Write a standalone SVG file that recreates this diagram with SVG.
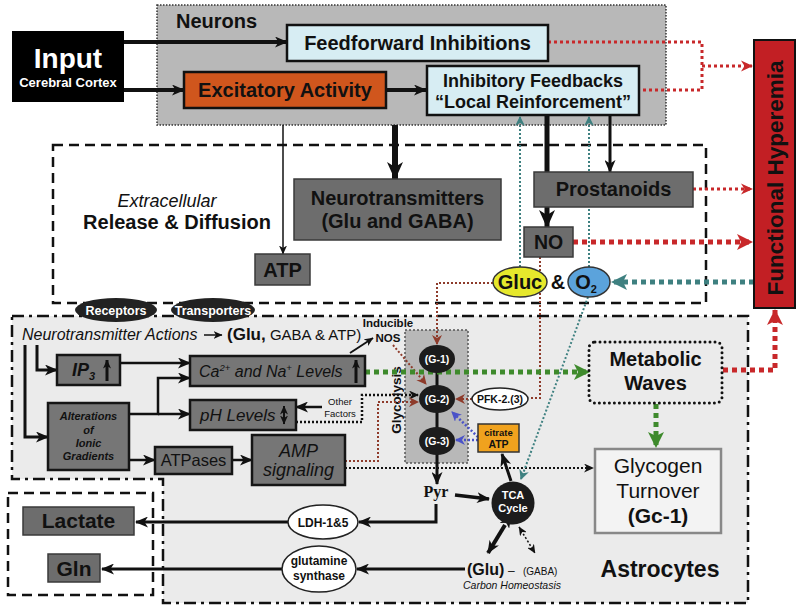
<svg xmlns="http://www.w3.org/2000/svg" width="800" height="610" viewBox="0 0 800 610">
<style>
text{font-family:"Liberation Sans",Arial,sans-serif;fill:#111}
.b{font-weight:bold}
.i{font-style:italic}
.m{text-anchor:middle}
.w{fill:#fff}
.dk{fill:#6d6d6d;stroke:#3a3a3a;stroke-width:1.5}
.ab{fill:#767676;stroke:#151515;stroke-width:2.5}
.ln{fill:none;stroke:#111}
.dot{stroke-dasharray:2 2}
.red{fill:none;stroke:#c8282a}
.brn{fill:none;stroke:#8e3b2b;stroke-width:2;stroke-dasharray:2 2}
.tea{fill:none;stroke:#3e8080}
.grn{fill:none;stroke:#3e8a2c;stroke-width:5;stroke-dasharray:5 4}
.blu{fill:none;stroke:#4a52c8;stroke-width:2.5;stroke-dasharray:2 2}
</style>
<defs>
<marker id="aB" markerUnits="userSpaceOnUse" markerWidth="18" markerHeight="16" viewBox="0 0 18 16" refX="17" refY="8" orient="auto"><path d="M0,0 L18,8 L0,16 L5,8 z" fill="#111"/></marker>
<marker id="aM" markerUnits="userSpaceOnUse" markerWidth="13" markerHeight="11" viewBox="0 0 13 11" refX="12" refY="5.5" orient="auto"><path d="M0,0 L13,5.5 L0,11 L3.5,5.5 z" fill="#111"/></marker>
<marker id="aMs" markerUnits="userSpaceOnUse" markerWidth="13" markerHeight="11" viewBox="0 0 13 11" refX="1" refY="5.5" orient="auto-start-reverse"><path d="M0,0 L13,5.5 L0,11 L3.5,5.5 z" fill="#111"/></marker>
<marker id="aS" markerUnits="userSpaceOnUse" markerWidth="9" markerHeight="8" viewBox="0 0 9 8" refX="8.5" refY="4" orient="auto-start-reverse"><path d="M0,0 L9,4 L0,8 L2.5,4 z" fill="#111"/></marker>
<marker id="aR" markerUnits="userSpaceOnUse" markerWidth="12" markerHeight="12" viewBox="0 0 12 12" refX="11" refY="6" orient="auto"><path d="M0,0.5 L12,6 L0,11.5 L3.5,6 z" fill="#c8282a"/></marker>
<marker id="aRb" markerUnits="userSpaceOnUse" markerWidth="16" markerHeight="16" viewBox="0 0 16 16" refX="15" refY="8" orient="auto"><path d="M0,0 L16,8 L0,16 L4,8 z" fill="#c8282a"/></marker>
<marker id="aT" markerUnits="userSpaceOnUse" markerWidth="10" markerHeight="10" viewBox="0 0 10 10" refX="9" refY="5" orient="auto"><path d="M0,0 L10,5 L0,10 L3,5 z" fill="#3e8080"/></marker>
<marker id="aTb" markerUnits="userSpaceOnUse" markerWidth="16" markerHeight="16" viewBox="0 0 16 16" refX="15" refY="8" orient="auto"><path d="M0,0 L16,8 L0,16 L4,8 z" fill="#3e8080"/></marker>
<marker id="aG" markerUnits="userSpaceOnUse" markerWidth="16" markerHeight="16" viewBox="0 0 16 16" refX="15" refY="8" orient="auto"><path d="M0,0 L16,8 L0,16 L4,8 z" fill="#3e8a2c"/></marker>
<marker id="aBr" markerUnits="userSpaceOnUse" markerWidth="10" markerHeight="10" viewBox="0 0 10 10" refX="9" refY="5" orient="auto"><path d="M0,0 L10,5 L0,10 L3,5 z" fill="#8e3b2b"/></marker>
<marker id="aBl" markerUnits="userSpaceOnUse" markerWidth="10" markerHeight="10" viewBox="0 0 10 10" refX="9" refY="5" orient="auto"><path d="M0,0 L10,5 L0,10 L3,5 z" fill="#4a52c8"/></marker>
<marker id="aK" markerUnits="userSpaceOnUse" markerWidth="10" markerHeight="9" viewBox="0 0 10 9" refX="9" refY="4.5" orient="auto"><path d="M0,0 L10,4.5 L0,9 L3,4.5 z" fill="#111"/></marker>
</defs>

<!-- containers -->
<g id="neurons">
<rect x="157" y="5" width="509" height="120" fill="#b8b8b8" stroke="#333" stroke-width="1.5" stroke-dasharray="1.5 1.5"/>
<text x="176" y="28" class="b" font-size="20">Neurons</text>
</g>
<g id="extracellular">
<rect x="53" y="145" width="653" height="158" fill="none" stroke="#111" stroke-width="2.5" stroke-dasharray="10 6"/>
<text x="167" y="207" class="i m" font-size="18">Extracellular</text>
<text x="177" y="229" class="b m" font-size="20">Release &amp; Diffusion</text>
</g>
<g id="astrocytes">
<path d="M12,316 H748 V603 H163 V479 H12 Z" fill="#ebebeb" stroke="#111" stroke-width="2.5" stroke-dasharray="12 5 3 5"/>
<text x="660" y="577" class="b m" font-size="23">Astrocytes</text>
</g>
<g id="outputs">
<rect x="8" y="493" width="145" height="102" fill="none" stroke="#111" stroke-width="2.5" stroke-dasharray="10 6"/>
</g>
<g id="glycolysis">
<rect x="405" y="330" width="63" height="133" fill="#b8b8b8" stroke="#555" stroke-width="1.5" stroke-dasharray="2 2"/>
<text transform="translate(401,400) rotate(-90)" class="b m" font-size="13.5">Glycolysis</text>
</g>

<!-- connectors -->
<g id="connectors">
<path class="ln" d="M124,42 H287" stroke-width="4" marker-end="url(#aM)"/>
<path class="ln" d="M124,90 H184" stroke-width="4" marker-end="url(#aM)"/>
<path class="ln" d="M386,90 H426" stroke-width="4" marker-end="url(#aM)"/>
<path class="ln" d="M283,125 V254" stroke-width="1.5" marker-end="url(#aS)"/>
<path class="ln" d="M395,125 V179" stroke-width="6" marker-end="url(#aB)"/>
<path class="ln" d="M547,115 V227" stroke-width="5" marker-end="url(#aB)"/>
<path class="ln" d="M610,115 V172" stroke-width="3" marker-end="url(#aM)"/>
<path class="ln" d="M204,335 H222" stroke-width="1.5" marker-end="url(#aS)"/>
<path class="ln" d="M37,345 V370 H57" stroke-width="3" marker-end="url(#aM)"/>
<path class="ln" d="M25,345 V437 H48" stroke-width="3" marker-end="url(#aM)"/>
<path class="ln" d="M120,363 H190" stroke-width="2.5" marker-end="url(#aM)"/>
<path class="ln" d="M129,414 H158 V378 H190" stroke-width="2.5" marker-end="url(#aM)"/>
<path class="ln" d="M158,414 H190" stroke-width="2.5" marker-end="url(#aM)"/>
<path class="ln" d="M129,460 H155" stroke-width="2.5" marker-end="url(#aM)"/>
<path class="ln" d="M232,460 H252" stroke-width="2.5" marker-end="url(#aM)"/>
<path class="ln" d="M322,407 H296" stroke-width="2.5" marker-end="url(#aM)"/>
<path class="ln" d="M350,353 L373,338" stroke-width="2" marker-end="url(#aS)"/>
<path class="ln" d="M437,359 V484" stroke-width="3" marker-end="url(#aM)"/>
<path class="ln" d="M455,495 L489,499" stroke-width="3.5" marker-end="url(#aM)"/>
<path class="ln" d="M436,504 V522 H359" stroke-width="3" marker-end="url(#aM)"/>
<path class="ln" d="M288,522 H136" stroke-width="3" marker-end="url(#aM)"/>
<path class="ln" d="M465,569 H357" stroke-width="3" marker-end="url(#aM)"/>
<path class="ln" d="M282,569 H102" stroke-width="3" marker-end="url(#aM)"/>
<path class="ln" d="M505,525 L488,553" stroke-width="4" marker-start="url(#aMs)" marker-end="url(#aM)"/>
<path class="ln" d="M519,527 L535,553" stroke-width="1.5" stroke-dasharray="2 2" marker-start="url(#aS)" marker-end="url(#aS)"/>
<path class="ln" d="M511,481 L502,454" stroke-width="3" marker-end="url(#aM)"/>
<path class="ln dot" d="M296,422 H362 V395 H418" stroke-width="2.5" marker-end="url(#aK)"/>
<path class="ln dot" d="M345,468 H593" stroke-width="2" marker-end="url(#aK)"/>
<path class="brn" d="M493,283 H437 V344" marker-end="url(#aBr)"/>
<path class="brn" d="M540,257 V398 H529"/>
<path class="brn" d="M472,399 H456" marker-end="url(#aBr)"/>
<path class="brn" d="M393,345 L426,384" marker-end="url(#aBr)"/>
<path class="brn" d="M345,461 H378 V402 H418" marker-end="url(#aBr)"/>
<path class="red" d="M548,42 H702 V90 H639" stroke-width="3" stroke-dasharray="3 3"/>
<path class="red" d="M702,66 H752" stroke-width="3" stroke-dasharray="3 3" marker-end="url(#aR)"/>
<path class="red" d="M693,189 H752" stroke-width="3" stroke-dasharray="3 3" marker-end="url(#aR)"/>
<path class="red" d="M573,242 H752" stroke-width="5" stroke-dasharray="5 4" marker-end="url(#aRb)"/>
<path class="red" d="M723,370 H775 V310" stroke-width="5" stroke-dasharray="5 4" marker-end="url(#aRb)"/>
<path class="tea" d="M754,282 H612" stroke-width="5" stroke-dasharray="5 4" marker-end="url(#aTb)"/>
<path class="tea" d="M520,267 V117" stroke-width="2" stroke-dasharray="2 2" marker-end="url(#aT)"/>
<path class="tea" d="M589,267 V117" stroke-width="2" stroke-dasharray="2 2" marker-end="url(#aT)"/>
<path class="tea" d="M588,297 L521,479" stroke-width="2" stroke-dasharray="2 2" marker-end="url(#aT)"/>
<path class="grn" d="M365,372 H589" marker-end="url(#aG)"/>
<path class="grn" d="M656,404 V447" marker-end="url(#aG)"/>
<path class="blu" d="M478,440 H456" marker-end="url(#aBl)"/>
<path class="blu" d="M478,437 L452,412" marker-end="url(#aBl)"/>
</g>

<!-- nodes -->
<g id="input">
<rect x="12" y="31" width="112" height="71" fill="#000"/>
<text x="68" y="68" class="b m w" font-size="28">Input</text>
<text x="68" y="87" class="b m w" font-size="13">Cerebral Cortex</text>
</g>
<g id="feedforward">
<rect x="287" y="25" width="261" height="36" fill="#d7edf3" stroke="#111" stroke-width="2.5"/>
<text x="417.5" y="50" class="b m" font-size="20">Feedforward Inhibitions</text>
</g>
<g id="excitatory">
<rect x="184" y="72" width="202" height="36" fill="#d0561d" stroke="#111" stroke-width="2.5"/>
<text x="285" y="97" class="b m" font-size="20">Excitatory Activity</text>
</g>
<g id="inhibitory">
<rect x="427" y="66" width="212" height="49" fill="#d7edf3" stroke="#111" stroke-width="2.5"/>
<text x="533" y="87" class="b m" font-size="18">Inhibitory Feedbacks</text>
<text x="533" y="108" class="b m" font-size="18">“Local Reinforcement”</text>
</g>
<g id="hyperemia">
<rect x="754" y="40" width="41" height="268" fill="#c21f24" stroke="#111" stroke-width="2"/>
<text transform="translate(783,178) rotate(-90)" class="b m" font-size="22.5">Functional Hyperemia</text>
</g>
<g id="atp">
<rect x="255" y="254" width="55" height="31" class="dk"/>
<text x="282.5" y="277" class="b m" font-size="20">ATP</text>
</g>
<g id="neurotransmitters">
<rect x="294" y="179" width="207" height="61" class="dk"/>
<text x="397.5" y="205" class="b m" font-size="20">Neurotransmitters</text>
<text x="397.5" y="228" class="b m" font-size="20">(Glu and GABA)</text>
</g>
<g id="prostanoids">
<rect x="534" y="172" width="159" height="35" class="dk"/>
<text x="613.5" y="196" class="b m" font-size="20">Prostanoids</text>
</g>
<g id="no">
<rect x="524" y="227" width="49" height="30" class="dk"/>
<text x="548.5" y="249" class="b m" font-size="19.5">NO</text>
</g>
<g id="gluc">
<ellipse cx="520" cy="282" rx="27" ry="15" fill="#e6e82c" stroke="#333" stroke-width="1.5"/>
<text x="520" y="289" class="b m" font-size="20">Gluc</text>
<text x="558" y="289" class="b m" font-size="20">&amp;</text>
</g>
<g id="o2">
<ellipse cx="589" cy="282" rx="21" ry="15" fill="#5ba3dc" stroke="#333" stroke-width="1.5"/>
<text x="586" y="289" class="b m" font-size="20">O<tspan font-size="11" dy="4">2</tspan></text>
</g>
<g id="receptors">
<ellipse cx="116" cy="310" rx="41" ry="12" fill="#222"/>
<text x="116" y="314.5" class="b m w" font-size="12.5">Receptors</text>
</g>
<g id="transporters">
<ellipse cx="213" cy="310" rx="42" ry="12" fill="#222"/>
<text x="213" y="314.5" class="b m w" font-size="12.5">Transporters</text>
</g>
<g id="nt-actions">
<text x="22" y="340" class="i" font-size="16" fill="#222">Neurotransmitter Actions</text>
<text x="227" y="340" font-size="17"><tspan class="b">(Glu,</tspan><tspan font-size="15"> GABA &amp; ATP)</tspan></text>
</g>
<g id="inos">
<text x="388" y="327" class="b m" font-size="11.5">Inducible</text>
<text x="388" y="342" class="b m" font-size="11.5">NOS</text>
</g>
<g id="ip3">
<rect x="57" y="355" width="63" height="30" class="ab"/>
<text x="72" y="376" class="b i" font-size="18">IP<tspan font-size="11" dy="4">3</tspan></text>
<path class="ln" d="M107,381 V360" stroke-width="3" marker-end="url(#aS)"/>
</g>
<g id="ca">
<rect x="190" y="356" width="175" height="30" class="ab"/>
<text x="199" y="377" class="i" font-size="16">Ca<tspan font-size="9.5" dy="-6">2+</tspan><tspan dy="6"> and Na</tspan><tspan font-size="9.5" dy="-6">+</tspan><tspan dy="6"> Levels</tspan></text>
<path class="ln" d="M356,383 V360" stroke-width="3" marker-end="url(#aS)"/>
</g>
<g id="ph">
<rect x="190" y="400" width="106" height="30" class="ab"/>
<text x="200" y="421" class="i" font-size="17">pH Levels</text>
<path class="ln" d="M284,406 V424" stroke-width="2" marker-start="url(#aS)" marker-end="url(#aS)"/>
</g>
<g id="other">
<text x="340" y="405" class="m" font-size="9.5" fill="#222">Other</text>
<text x="340" y="417" class="m" font-size="9.5" fill="#222">Factors</text>
</g>
<g id="alterations">
<rect x="48" y="403" width="81" height="67" class="ab"/>
<text x="88.5" y="420" class="b i m" font-size="11">Alterations</text>
<text x="88.5" y="434" class="b i m" font-size="11">of</text>
<text x="88.5" y="447" class="b i m" font-size="11">Ionic</text>
<text x="88.5" y="460" class="b i m" font-size="11">Gradients</text>
</g>
<g id="atpases">
<rect x="155" y="447" width="77" height="27" class="ab"/>
<text x="193.5" y="466" class="m" font-size="16.5">ATPases</text>
</g>
<g id="amp">
<rect x="252" y="435" width="93" height="50" class="ab"/>
<text x="298.5" y="457" class="i m" font-size="18">AMP</text>
<text x="298.5" y="476" class="i m" font-size="18">signaling</text>
</g>
<g id="g1">
<ellipse cx="437" cy="359" rx="18" ry="14" fill="#1c1c1c"/>
<text x="437" y="363" class="b m w" font-size="10.5">(G-1)</text>
</g>
<g id="g2">
<ellipse cx="437" cy="399" rx="18" ry="14" fill="#1c1c1c"/>
<text x="437" y="403" class="b m w" font-size="10.5">(G-2)</text>
</g>
<g id="g3">
<ellipse cx="437" cy="441" rx="18" ry="14" fill="#1c1c1c"/>
<text x="437" y="445" class="b m w" font-size="10.5">(G-3)</text>
</g>
<g id="pfk">
<ellipse cx="500" cy="399" rx="28" ry="11" fill="#fff" stroke="#222" stroke-width="1.5"/>
<text x="500" y="403" class="b m" font-size="10.5">PFK-2.(3)</text>
</g>
<g id="citrate">
<rect x="478" y="424" width="41" height="28" fill="#f0a21e" stroke="#333" stroke-width="1.5"/>
<text x="498.5" y="436" class="b m" font-size="9.5">citrate</text>
<text x="498.5" y="448" class="b m" font-size="10.5">ATP</text>
</g>
<g id="metabolic">
<rect x="589" y="342" width="133" height="61" rx="6" fill="none" stroke="#111" stroke-width="3" stroke-linecap="round" stroke-dasharray="0 5"/>
<text x="655.5" y="366" class="b m" font-size="20">Metabolic</text>
<text x="655.5" y="390" class="b m" font-size="20">Waves</text>
</g>
<g id="glycogen">
<rect x="595" y="449" width="126" height="84" fill="#f3f3f3" stroke="#888" stroke-width="2.5"/>
<text x="658" y="473" class="m" font-size="21">Glycogen</text>
<text x="658" y="498" class="m" font-size="21">Turnover</text>
<text x="658" y="523" class="b m" font-size="21">(Gc-1)</text>
</g>
<g id="pyr">
<text x="436" y="497" class="b m" font-size="16" style="font-family:'Liberation Serif','Times New Roman',serif">Pyr</text>
</g>
<g id="tca">
<circle cx="513" cy="503" r="21.5" fill="#1c1c1c"/>
<text x="513" y="499" class="b m w" font-size="11">TCA</text>
<text x="513" y="512" class="b m w" font-size="11">Cycle</text>
</g>
<g id="ldh">
<ellipse cx="323" cy="522" rx="35" ry="17" fill="#fff" stroke="#222" stroke-width="1.5"/>
<text x="323" y="526.5" class="b m" font-size="12">LDH-1&amp;5</text>
</g>
<g id="glutamine">
<ellipse cx="319" cy="569" rx="37" ry="23" fill="#fff" stroke="#222" stroke-width="1.5"/>
<text x="319" y="565" class="b m" font-size="12">glutamine</text>
<text x="319" y="580" class="b m" font-size="12">synthase</text>
</g>
<g id="glu">
<text x="467" y="575" class="b" font-size="16">(Glu)</text>
<text x="508" y="575" font-size="12">–</text>
<text x="523" y="575" font-size="10">(GABA)</text>
<text x="512" y="589" class="i m" font-size="10.5" fill="#333">Carbon Homeostasis</text>
</g>
<g id="lactate">
<rect x="23" y="507" width="111" height="28" class="dk"/>
<text x="78.5" y="528" class="b m" font-size="21">Lactate</text>
</g>
<g id="gln">
<rect x="48" y="554" width="52" height="28" class="dk"/>
<text x="74" y="576" class="b m" font-size="21">Gln</text>
</g>
</svg>
